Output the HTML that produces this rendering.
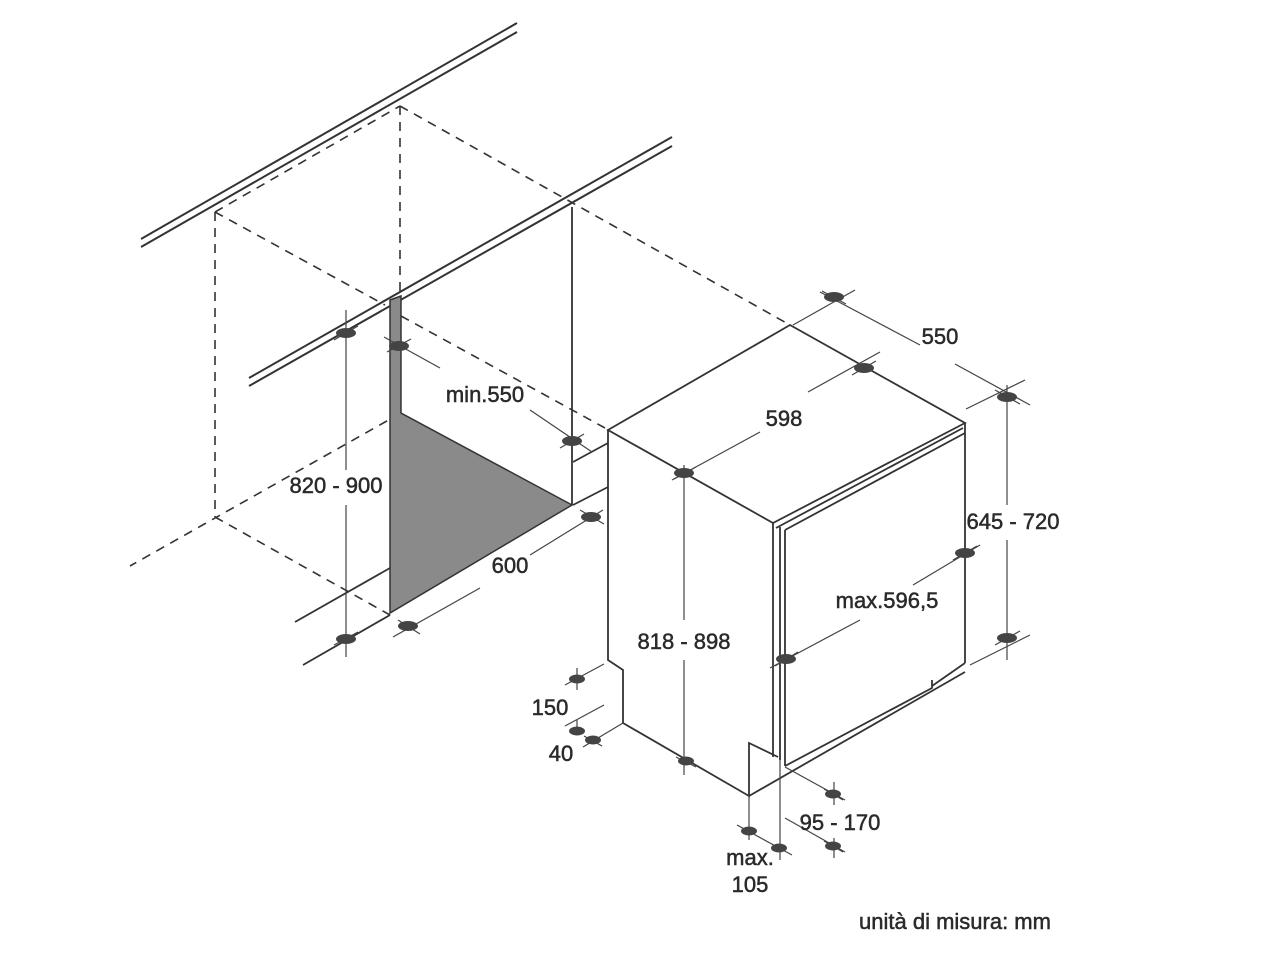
<!DOCTYPE html>
<html><head><meta charset="utf-8"><style>
html,body{margin:0;padding:0;background:#fff;}
svg{display:block}
text{font-family:"Liberation Sans",sans-serif;fill:#2a2a2a;font-size:22px;stroke:#2a2a2a;stroke-width:0.5;}
</style></head><body>
<svg width="1280" height="960" viewBox="0 0 1280 960" xmlns="http://www.w3.org/2000/svg">
<g stroke="#333" fill="none" stroke-width="2">
<line x1="141" y1="239" x2="517" y2="23"/>
<line x1="141" y1="247" x2="517" y2="32"/>
<line x1="249" y1="378" x2="672" y2="137"/>
<line x1="249" y1="386" x2="672" y2="146"/>
</g>
<g stroke="#333" fill="none" stroke-width="1.6" stroke-dasharray="9,7">
<line x1="215" y1="212" x2="400" y2="106"/>
<line x1="400" y1="106" x2="790" y2="325"/>
<line x1="215" y1="212" x2="215" y2="517"/>
<line x1="400" y1="106" x2="400" y2="300"/>
<line x1="215" y1="212" x2="385" y2="305"/>
<line x1="401" y1="316" x2="605" y2="428"/>
<line x1="401" y1="413" x2="130" y2="566"/>
<line x1="215" y1="517" x2="390" y2="615"/>
</g>
<polygon points="390,300 401,296 401,413 572,505 390,613" fill="#8a8a8a" stroke="#333" stroke-width="1.5"/>
<g stroke="#333" fill="none" stroke-width="1.8">
<line x1="572" y1="207" x2="572" y2="505"/>
<line x1="573" y1="462" x2="608" y2="443"/>
<line x1="573" y1="505" x2="608" y2="487"/>
<line x1="295" y1="622" x2="390" y2="568"/>
<line x1="303" y1="665" x2="390" y2="615"/>
<polygon points="608,430 790,325 965,423 773,523"/>
<polyline points="608,430 608,660 623,670 623,723 749,796 749,743 778,757"/>
<line x1="749" y1="796" x2="965" y2="672"/>
<line x1="773" y1="523" x2="773" y2="757"/>
<line x1="780" y1="527" x2="780" y2="760"/>
<line x1="785" y1="530" x2="785" y2="766"/>
<line x1="776" y1="528" x2="963" y2="428"/>
<line x1="785" y1="530" x2="965" y2="433"/>
<line x1="965" y1="423" x2="965" y2="663"/>
<polyline points="785,766 932,688 932,680"/>
<line x1="932" y1="686" x2="965" y2="663"/>
</g>
<g stroke="#444" fill="none" stroke-width="1.2">
<line x1="346" y1="310" x2="346" y2="470"/><line x1="346" y1="505" x2="346" y2="657"/>
<line x1="384" y1="337" x2="440" y2="368"/><line x1="530" y1="410" x2="592" y2="452"/>
<line x1="393" y1="637" x2="480" y2="588"/><line x1="530" y1="555" x2="603" y2="510"/>
<line x1="684" y1="465" x2="684" y2="620"/><line x1="684" y1="660" x2="684" y2="775"/>
<line x1="672" y1="480" x2="760" y2="432"/><line x1="808" y1="392" x2="880" y2="352"/>
<line x1="793" y1="325" x2="855" y2="290"/><line x1="820" y1="292" x2="920" y2="345"/><line x1="955" y1="364" x2="1030" y2="405"/>
<line x1="966" y1="409" x2="1025" y2="380"/>
<line x1="1007" y1="385" x2="1007" y2="505"/><line x1="1007" y1="540" x2="1007" y2="660"/>
<line x1="970" y1="665" x2="1030" y2="635"/>
<line x1="770" y1="668" x2="860" y2="620"/><line x1="913" y1="585" x2="980" y2="545"/>
<line x1="577" y1="668" x2="577" y2="690"/><line x1="577" y1="720" x2="577" y2="735"/>
<line x1="565" y1="685" x2="604" y2="664"/><line x1="565" y1="726" x2="604" y2="705"/>
<line x1="583" y1="747" x2="623" y2="723"/>
<line x1="749" y1="796" x2="749" y2="840"/><line x1="780" y1="760" x2="780" y2="860"/>
<line x1="737" y1="825" x2="792" y2="855"/>
<line x1="785" y1="767" x2="845" y2="800"/><line x1="785" y1="818" x2="845" y2="852"/>
<line x1="834" y1="782" x2="834" y2="805"/><line x1="834" y1="838" x2="834" y2="858"/>
<line x1="334" y1="340" x2="358" y2="326"/><line x1="334" y1="645" x2="358" y2="632"/>
<line x1="387" y1="352" x2="411" y2="339"/><line x1="560" y1="448" x2="584" y2="434"/>
<line x1="398" y1="620" x2="420" y2="634"/><line x1="580" y1="510" x2="604" y2="524"/>
<line x1="674" y1="479" x2="696" y2="467"/><line x1="852" y1="375" x2="876" y2="361"/>
<line x1="822" y1="291" x2="846" y2="304"/><line x1="995" y1="390" x2="1020" y2="404"/>
<line x1="953" y1="560" x2="977" y2="546"/><line x1="775" y1="666" x2="798" y2="652"/>
<line x1="995" y1="645" x2="1020" y2="631"/>
<line x1="584" y1="736" x2="602" y2="746"/>
<line x1="824" y1="789" x2="843" y2="800"/><line x1="824" y1="841" x2="843" y2="852"/>
<line x1="676" y1="757" x2="696" y2="767"/>
</g>
<g fill="#444">
<ellipse cx="346" cy="333" rx="10" ry="5"/><ellipse cx="346" cy="639" rx="10" ry="5"/>
<ellipse cx="399" cy="346" rx="10" ry="5"/><ellipse cx="572" cy="441" rx="10" ry="5"/>
<ellipse cx="408" cy="626" rx="10" ry="5"/><ellipse cx="591" cy="517" rx="10" ry="5"/>
<ellipse cx="684" cy="473" rx="10" ry="5"/><ellipse cx="864" cy="368" rx="10" ry="5"/>
<ellipse cx="834" cy="297" rx="10" ry="5"/><ellipse cx="1007" cy="397" rx="10" ry="5"/>
<ellipse cx="965" cy="553" rx="10" ry="5"/><ellipse cx="786" cy="659" rx="10" ry="5"/>
<ellipse cx="1007" cy="638" rx="10" ry="5"/><ellipse cx="686" cy="761" rx="8" ry="4.5"/>
<ellipse cx="577" cy="679" rx="8" ry="4.5"/><ellipse cx="577" cy="731" rx="8" ry="4.5"/>
<ellipse cx="593" cy="740" rx="8" ry="4.5"/>
<ellipse cx="749" cy="831" rx="8" ry="4.5"/><ellipse cx="779" cy="848" rx="8" ry="4.5"/>
<ellipse cx="833" cy="794" rx="8" ry="4.5"/><ellipse cx="833" cy="846" rx="8" ry="4.5"/>
</g>
<g text-anchor="middle">
<text x="485" y="402">min.550</text>
<text x="336" y="493">820 - 900</text>
<text x="510" y="573">600</text>
<text x="784" y="426">598</text>
<text x="940" y="344">550</text>
<text x="1013" y="529">645 - 720</text>
<text x="887" y="608">max.596,5</text>
<text x="684" y="649">818 - 898</text>
<text x="550" y="715">150</text>
<text x="561" y="761">40</text>
<text x="840" y="830">95 - 170</text>
<text x="750" y="865">max.</text>
<text x="750" y="892">105</text>
<text x="955" y="929">unità di misura: mm</text>
</g>
</svg>
</body></html>
